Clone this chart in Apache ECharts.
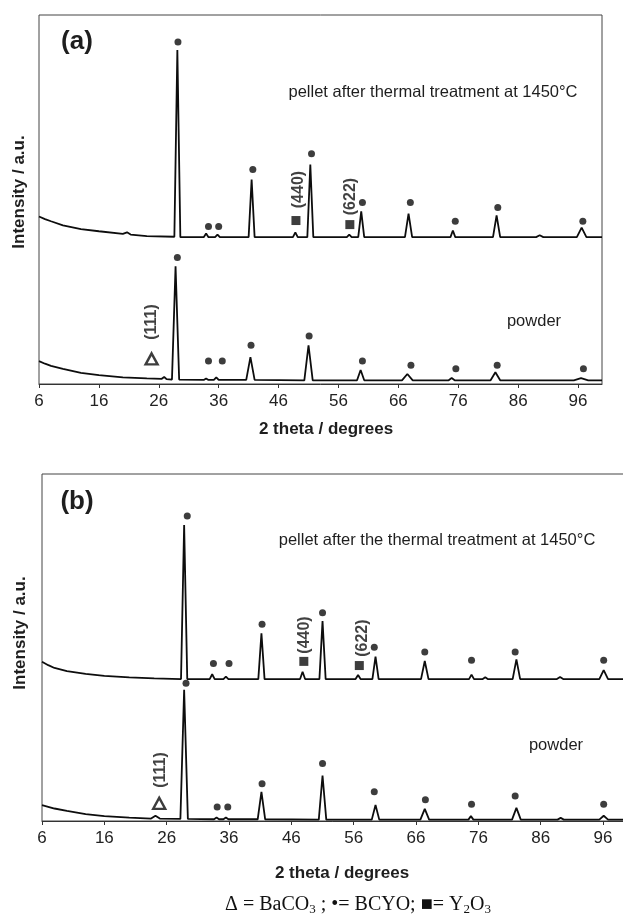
<!DOCTYPE html>
<html>
<head>
<meta charset="utf-8">
<title>XRD patterns (a) (b)</title>
<script src="https://cdn.jsdelivr.net/npm/echarts@6/dist/echarts.min.js"></script>
<style>
  html, body { margin: 0; padding: 0; background: #fff; }
  #xrd { width: 623px; height: 923px; }
</style>
</head>
<body>
<div id="xrd"></div>
<script type="text/javascript">
// 2 theta tick labels
var xTicks = [6, 16, 26, 36, 46, 56, 66, 76, 86, 96];

// panel (a) patterns: [2theta, intensity a.u.]
var pelletA = [[6,454],[7,447],[8,441],[10,430],[13,420],[16,414],[20,407],[20.7,411],[21.3,405],[24,401],[28.6,399],[29.1,905],[29.6,398],[33.5,398],[33.9,408],[34.3,398],[35.4,398],[35.8,405],[36.2,398],[41.0,398],[41.5,554],[42.0,398],[48.4,398],[48.8,411],[49.2,398],[50.8,398],[51.3,595],[51.8,398],[57.4,398],[57.8,405],[58.2,398],[59.3,398],[59.8,468],[60.3,398],[67.1,398],[67.7,462],[68.3,398],[74.7,398],[75.1,416],[75.5,398],[81.8,398],[82.4,457],[83.0,398],[89.0,398],[89.6,403],[90.2,398],[95.8,398],[96.6,424],[97.4,398],[100,398]];
var powderA = [[6,62],[7,55],[8,49],[10,41],[13,30],[16,24],[20,18],[24,15],[26.5,14],[26.9,19],[27.3,13],[28.2,12],[28.8,319],[29.4,12],[33.5,11],[33.9,15],[34.3,11],[35.2,11],[35.6,18],[36.0,11],[40.6,11],[41.3,73],[42.0,11],[50.3,10],[51.0,105],[51.7,10],[59.1,10],[59.7,38],[60.3,10],[66.6,10],[67.5,27],[68.4,10],[74.4,10],[74.9,16],[75.4,10],[81.4,10],[82.2,32],[83.0,10],[95.3,10],[96.5,16],[97.7,10],[100,10]];

// panel (b) patterns
var pelletB = [[6,459],[7,449],[8,441],[10,432],[13,424],[16,418],[20,414],[24,411],[28.3,409],[28.8,853],[29.3,409],[32.9,409],[33.3,423],[33.7,409],[35.1,409],[35.5,416],[35.9,409],[40.7,409],[41.2,541],[41.7,409],[47.4,409],[47.8,430],[48.2,409],[50.5,409],[51.0,576],[51.5,409],[56.3,409],[56.7,421],[57.1,409],[59.0,409],[59.5,474],[60.0,409],[66.8,409],[67.4,461],[68.0,409],[74.5,409],[74.9,422],[75.3,409],[76.7,409],[77.1,414],[77.5,409],[81.5,409],[82.1,466],[82.7,409],[88.6,409],[89.1,415],[89.6,409],[95.4,409],[96.1,435],[96.8,409],[100,409]];
var powderB = [[6,46],[7,41],[8,36],[10,29],[13,20],[16,14],[20,10],[23.5,7],[24.2,15],[24.9,7],[28.2,6],[28.8,378],[29.4,6],[33.6,5],[34.0,10],[34.4,5],[35.1,5],[35.5,10],[35.9,5],[40.6,5],[41.2,84],[41.8,5],[50.4,4],[51.0,131],[51.6,4],[58.9,4],[59.5,46],[60.1,4],[66.7,4],[67.4,35],[68.1,4],[74.4,4],[74.8,14],[75.2,4],[81.4,4],[82.1,38],[82.8,4],[88.7,4],[89.2,9],[89.7,4],[95.4,4],[96.1,15],[96.8,4],[100,4]];

// phase markers: BCYO dots, Y2O3 squares, BaCO3 triangles
var bcyoA = [[29.2,927],[34.3,427],[36.0,427],[41.7,581],[51.5,624],[60.0,492],[68.0,492],[75.5,441],[82.6,478],[96.8,441],
             [29.1,343],[34.3,62],[36.6,62],[41.4,105],[51.1,130],[60.0,62],[68.1,51],[75.6,41],[82.5,51],[96.9,41]];
var y2o3A = [[48.9,443],[57.9,432]];
var baco3A = [[24.8,68]];
var bcyoB = [[29.3,879],[33.5,454],[36.0,454],[41.3,567],[51.0,600],[59.3,501],[67.4,487],[74.9,463],[81.9,487],[96.1,463],
             [29.1,397],[34.1,40],[35.8,40],[41.3,107],[51.0,166],[59.3,84],[67.5,61],[74.9,48],[81.9,72],[96.1,48]];
var y2o3B = [[48.0,460],[56.9,448]];
var baco3B = [[24.8,51]];

// hkl labels
var hklA = [['(440)',49.3,527],['(622)',58.0,508],['(111)',24.8,168]];
var hklB = [['(440)',48.1,536],['(622)',57.5,527],['(111)',25.1,147]];

var FONT = '"Liberation Sans", Arial, Helvetica, sans-serif';
var INK = '#0d0d0d';

var chart = echarts.init(document.getElementById('xrd'));

function xAx(gi) {
  return {
    type: 'value', gridIndex: gi, min: 6, max: 100,
    axisLine: { show: true, lineStyle: { color: '#333', width: 1 } },
    axisTick: { show: true, inside: false, length: 4, customValues: xTicks, lineStyle: { color: '#333' } },
    axisLabel: { customValues: xTicks, fontSize: 17, fontFamily: FONT, color: '#222', margin: 9 },
    splitLine: { show: false }
  };
}
function yAx(gi) {
  return {
    type: 'value', gridIndex: gi, min: 0, max: 1000,
    axisLine: { show: false }, axisTick: { show: false },
    axisLabel: { show: false }, splitLine: { show: false }
  };
}
function curve(data, gi) {
  return {
    type: 'line', xAxisIndex: gi, yAxisIndex: gi, data: data,
    showSymbol: false, symbol: 'none', smooth: false,
    lineStyle: { color: INK, width: 1.8 }, z: 3
  };
}
function marks(data, gi, sym, size, filled) {
  return {
    type: 'scatter', xAxisIndex: gi, yAxisIndex: gi, data: data,
    symbol: sym, symbolSize: size,
    itemStyle: filled ? { color: INK } : { color: '#fff', borderColor: INK, borderWidth: 2.4 },
    z: 4
  };
}
function hkl(list, gi) {
  return {
    type: 'scatter', xAxisIndex: gi, yAxisIndex: gi, symbolSize: 0,
    data: list.map(function (h) { return { name: h[0], value: [h[1], h[2]] }; }),
    label: {
      show: true, position: 'inside', rotate: 90, formatter: '{b}',
      fontSize: 16, fontWeight: 'bold', fontFamily: FONT, color: '#111'
    },
    z: 5
  };
}
function txt(s, x, y, size, bold, rot) {
  return {
    type: 'text', x: x, y: y, rotation: rot || 0,
    style: {
      text: s, fill: '#1e1e1e', align: 'center', verticalAlign: 'middle',
      font: (bold ? 'bold ' : '') + size + 'px ' + FONT
    }
  };
}

var option = {
  backgroundColor: '#fff',
  animation: false,
  grid: [
    { left: 39, top: 15, width: 563, height: 369, show: true, borderColor: '#444', borderWidth: 1, backgroundColor: 'transparent', outerBoundsMode: 'none' },
    { left: 42, top: 474, width: 586, height: 347, show: true, borderColor: '#444', borderWidth: 1, backgroundColor: 'transparent', outerBoundsMode: 'none' }
  ],
  xAxis: [xAx(0), xAx(1)],
  yAxis: [yAx(0), yAx(1)],
  series: [
    curve(pelletA, 0), curve(powderA, 0),
    curve(pelletB, 1), curve(powderB, 1),
    marks(bcyoA, 0, 'circle', 7, true), marks(y2o3A, 0, 'rect', 9, true), marks(baco3A, 0, 'triangle', [12, 11], false),
    marks(bcyoB, 1, 'circle', 7, true), marks(y2o3B, 1, 'rect', 9, true), marks(baco3B, 1, 'triangle', [12, 11], false),
    hkl(hklA, 0), hkl(hklB, 1)
  ],
  graphic: [
    txt('(a)', 77, 42, 26, true),
    txt('(b)', 77, 502, 26, true),
    txt('pellet after thermal treatment at 1450°C', 433, 92, 16.5, false),
    txt('powder', 534, 321, 16.5, false),
    txt('pellet after the thermal treatment at 1450°C', 437, 540, 16.5, false),
    txt('powder', 556, 745, 16.5, false),
    txt('Intensity / a.u.', 19, 192, 17, true, Math.PI / 2),
    txt('Intensity / a.u.', 20, 633, 17, true, Math.PI / 2),
    txt('2 theta / degrees', 326, 429, 17, true),
    txt('2 theta / degrees', 342, 873, 17, true),
    {
      type: 'text', x: 358, y: 905,
      style: {
        text: 'Δ = BaCO{s|3} ; •= BCYO; ■= Y{s|2}O{s|3}',
        align: 'center', verticalAlign: 'middle', fill: '#111',
        font: '20px "Liberation Serif", "Times New Roman", serif',
        rich: {
          s: { fontSize: 13, fontFamily: '"Liberation Serif", serif', fill: '#111', padding: [9, 0, 0, 0] }
        }
      }
    }
  ]
};

chart.setOption(option);
</script>
</body>
</html>
